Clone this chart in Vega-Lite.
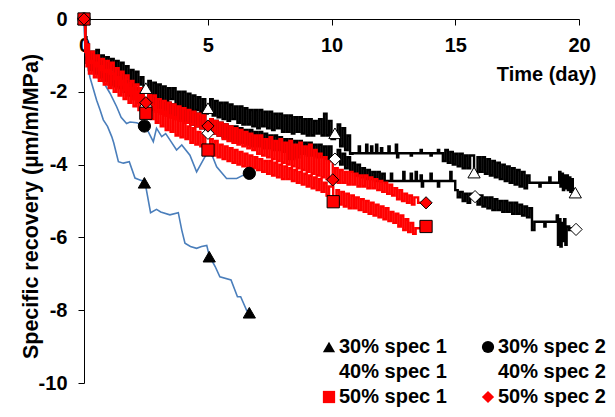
{
 "$schema": "https://vega.github.io/schema/vega-lite/v6.json",
 "width": 495, "height": 364,
 "autosize": "none",
 "padding": {"left": 84, "top": 19, "right": 36, "bottom": 34},
 "background": "white",
 "config": {"view": {"stroke": null}, "font": "Liberation Sans"},
 "resolve": {"scale": {"stroke": "independent"}},
 "datasets": {
  "blue": [
   {"s":"30% spec 1","x":0,"y":0},{"s":"30% spec 1","x":0.04,"y":-0.85},{"s":"30% spec 1","x":0.24,"y":-1.6},{"s":"30% spec 1","x":0.51,"y":-2.23},{"s":"30% spec 1","x":0.65,"y":-2.5},{"s":"30% spec 1","x":0.78,"y":-2.77},{"s":"30% spec 1","x":0.95,"y":-2.95},{"s":"30% spec 1","x":1.12,"y":-3.23},{"s":"30% spec 1","x":1.2,"y":-3.4},{"s":"30% spec 1","x":1.39,"y":-3.92},{"s":"30% spec 1","x":1.59,"y":-3.96},{"s":"30% spec 1","x":1.83,"y":-3.92},{"s":"30% spec 1","x":2.06,"y":-4.37},{"s":"30% spec 1","x":2.26,"y":-4.42},{"s":"30% spec 1","x":2.46,"y":-4.47},{"s":"30% spec 1","x":2.69,"y":-5.32},{"s":"30% spec 1","x":2.93,"y":-5.23},{"s":"30% spec 1","x":3.1,"y":-5.3},{"s":"30% spec 1","x":3.47,"y":-5.38},{"s":"30% spec 1","x":3.81,"y":-5.32},{"s":"30% spec 1","x":3.95,"y":-5.8},{"s":"30% spec 1","x":4.08,"y":-6.16},{"s":"30% spec 1","x":4.3,"y":-6.25},{"s":"30% spec 1","x":4.55,"y":-6.3},{"s":"30% spec 1","x":4.75,"y":-6.25},{"s":"30% spec 1","x":4.96,"y":-6.22},{"s":"30% spec 1","x":5.06,"y":-6.5},{"s":"30% spec 1","x":5.3,"y":-6.8},{"s":"30% spec 1","x":5.49,"y":-7.08},{"s":"30% spec 1","x":5.94,"y":-7.17},{"s":"30% spec 1","x":6.2,"y":-7.63},{"s":"30% spec 1","x":6.33,"y":-7.63},{"s":"30% spec 1","x":6.57,"y":-8.0},{"s":"30% spec 1","x":6.68,"y":-8.07},
   {"s":"30% spec 2","x":0,"y":0},{"s":"30% spec 2","x":0.08,"y":-1.13},{"s":"30% spec 2","x":0.38,"y":-1.35},{"s":"30% spec 2","x":0.65,"y":-1.58},{"s":"30% spec 2","x":1.05,"y":-2.04},{"s":"30% spec 2","x":1.32,"y":-2.41},{"s":"30% spec 2","x":1.5,"y":-2.7},{"s":"30% spec 2","x":1.72,"y":-2.87},{"s":"30% spec 2","x":1.86,"y":-2.83},{"s":"30% spec 2","x":2.13,"y":-2.85},{"s":"30% spec 2","x":2.44,"y":-2.94},{"s":"30% spec 2","x":2.6,"y":-3.1},{"s":"30% spec 2","x":2.8,"y":-3.37},{"s":"30% spec 2","x":2.93,"y":-3.0},{"s":"30% spec 2","x":3.14,"y":-3.23},{"s":"30% spec 2","x":3.3,"y":-3.15},{"s":"30% spec 2","x":3.47,"y":-3.32},{"s":"30% spec 2","x":3.74,"y":-3.6},{"s":"30% spec 2","x":3.95,"y":-3.46},{"s":"30% spec 2","x":4.28,"y":-3.74},{"s":"30% spec 2","x":4.55,"y":-4.2},{"s":"30% spec 2","x":4.89,"y":-3.78},{"s":"30% spec 2","x":5.09,"y":-3.6},{"s":"30% spec 2","x":5.36,"y":-4.06},{"s":"30% spec 2","x":5.76,"y":-4.38},{"s":"30% spec 2","x":6.17,"y":-4.38},{"s":"30% spec 2","x":6.44,"y":-4.29},{"s":"30% spec 2","x":6.68,"y":-4.24}
  ],
  "noisy": [
   {"s":"40% spec 2","x":0,"y":0},{"s":"40% spec 2","x":0.05,"y":-0.5},{"s":"40% spec 2","x":0.1,"y":-0.9},{"s":"40% spec 2","x":0.15,"y":-0.7},{"s":"40% spec 2","x":0.2,"y":-1.1},{"s":"40% spec 2","x":0.3,"y":-0.9},{"s":"40% spec 2","x":0.4,"y":-1.2},{"s":"40% spec 2","x":0.5,"y":-0.85},{"s":"40% spec 2","x":0.6,"y":-1.3},{"s":"40% spec 2","x":0.7,"y":-1.0},{"s":"40% spec 2","x":0.8,"y":-1.35},{"s":"40% spec 2","x":0.9,"y":-1.05},{"s":"40% spec 2","x":1.0,"y":-1.4},{"s":"40% spec 2","x":1.1,"y":-1.1},{"s":"40% spec 2","x":1.2,"y":-1.5},{"s":"40% spec 2","x":1.3,"y":-1.15},{"s":"40% spec 2","x":1.4,"y":-1.55},{"s":"40% spec 2","x":1.5,"y":-1.2},{"s":"40% spec 2","x":1.6,"y":-1.6},{"s":"40% spec 2","x":1.7,"y":-1.3},{"s":"40% spec 2","x":1.8,"y":-1.7},{"s":"40% spec 2","x":1.9,"y":-1.4},{"s":"40% spec 2","x":2.0,"y":-1.75},{"s":"40% spec 2","x":2.1,"y":-1.45},{"s":"40% spec 2","x":2.2,"y":-1.8},{"s":"40% spec 2","x":2.3,"y":-1.6},{"s":"40% spec 2","x":2.4,"y":-1.95},{"s":"40% spec 2","x":2.5,"y":-1.9},{"s":"40% spec 2","x":2.6,"y":-1.7},{"s":"40% spec 2","x":2.7,"y":-2.1},{"s":"40% spec 2","x":2.8,"y":-1.75},{"s":"40% spec 2","x":2.9,"y":-2.2},{"s":"40% spec 2","x":3.0,"y":-1.8},{"s":"40% spec 2","x":3.1,"y":-2.25},{"s":"40% spec 2","x":3.2,"y":-1.85},{"s":"40% spec 2","x":3.3,"y":-2.3},{"s":"40% spec 2","x":3.4,"y":-1.9},{"s":"40% spec 2","x":3.5,"y":-2.2},{"s":"40% spec 2","x":3.6,"y":-1.9},{"s":"40% spec 2","x":3.7,"y":-2.35},{"s":"40% spec 2","x":3.8,"y":-2.0},{"s":"40% spec 2","x":3.9,"y":-2.4},{"s":"40% spec 2","x":4.0,"y":-2.0},{"s":"40% spec 2","x":4.1,"y":-2.45},{"s":"40% spec 2","x":4.2,"y":-2.05},{"s":"40% spec 2","x":4.3,"y":-2.5},{"s":"40% spec 2","x":4.4,"y":-2.1},{"s":"40% spec 2","x":4.5,"y":-2.5},{"s":"40% spec 2","x":4.6,"y":-2.15},{"s":"40% spec 2","x":4.7,"y":-2.55},{"s":"40% spec 2","x":4.8,"y":-2.2},{"s":"40% spec 2","x":4.9,"y":-2.6},{"s":"40% spec 2","x":5.0,"y":-2.45},{"s":"40% spec 2","x":5.1,"y":-2.2},{"s":"40% spec 2","x":5.2,"y":-2.65},{"s":"40% spec 2","x":5.3,"y":-2.25},{"s":"40% spec 2","x":5.4,"y":-2.7},{"s":"40% spec 2","x":5.5,"y":-2.3},{"s":"40% spec 2","x":5.6,"y":-2.75},{"s":"40% spec 2","x":5.7,"y":-2.3},{"s":"40% spec 2","x":5.8,"y":-2.8},{"s":"40% spec 2","x":5.9,"y":-2.35},{"s":"40% spec 2","x":6.0,"y":-2.75},{"s":"40% spec 2","x":6.1,"y":-2.4},{"s":"40% spec 2","x":6.2,"y":-2.85},{"s":"40% spec 2","x":6.3,"y":-2.4},{"s":"40% spec 2","x":6.4,"y":-2.9},{"s":"40% spec 2","x":6.5,"y":-2.45},{"s":"40% spec 2","x":6.6,"y":-2.9},{"s":"40% spec 2","x":6.7,"y":-2.5},{"s":"40% spec 2","x":6.8,"y":-2.95},{"s":"40% spec 2","x":6.9,"y":-2.5},{"s":"40% spec 2","x":7.0,"y":-3.0},{"s":"40% spec 2","x":7.1,"y":-2.5},{"s":"40% spec 2","x":7.2,"y":-2.95},{"s":"40% spec 2","x":7.3,"y":-2.55},{"s":"40% spec 2","x":7.4,"y":-3.0},{"s":"40% spec 2","x":7.5,"y":-2.55},{"s":"40% spec 2","x":7.6,"y":-3.05},{"s":"40% spec 2","x":7.7,"y":-2.6},{"s":"40% spec 2","x":7.8,"y":-3.0},{"s":"40% spec 2","x":7.9,"y":-2.6},{"s":"40% spec 2","x":8.0,"y":-3.1},{"s":"40% spec 2","x":8.1,"y":-2.65},{"s":"40% spec 2","x":8.2,"y":-3.1},{"s":"40% spec 2","x":8.3,"y":-2.65},{"s":"40% spec 2","x":8.4,"y":-3.15},{"s":"40% spec 2","x":8.5,"y":-2.7},{"s":"40% spec 2","x":8.6,"y":-3.1},{"s":"40% spec 2","x":8.7,"y":-2.7},{"s":"40% spec 2","x":8.8,"y":-3.15},{"s":"40% spec 2","x":8.9,"y":-2.75},{"s":"40% spec 2","x":9.0,"y":-3.2},{"s":"40% spec 2","x":9.1,"y":-2.75},{"s":"40% spec 2","x":9.2,"y":-3.2},{"s":"40% spec 2","x":9.3,"y":-2.8},{"s":"40% spec 2","x":9.4,"y":-3.15},{"s":"40% spec 2","x":9.5,"y":-2.75},{"s":"40% spec 2","x":9.6,"y":-3.2},{"s":"40% spec 2","x":9.7,"y":-2.6},{"s":"40% spec 2","x":9.8,"y":-3.2},{"s":"40% spec 2","x":9.9,"y":-2.8},{"s":"40% spec 2","x":10.0,"y":-3.3},{"s":"40% spec 2","x":10.14,"y":-3.14},{"s":"40% spec 2","x":10.25,"y":-2.9},{"s":"40% spec 2","x":10.35,"y":-3.5},{"s":"40% spec 2","x":10.45,"y":-3.0},{"s":"40% spec 2","x":10.55,"y":-3.6},{"s":"40% spec 2","x":10.65,"y":-3.2},{"s":"40% spec 2","x":10.75,"y":-3.7},{"s":"40% spec 2","x":10.85,"y":-3.69},{"s":"40% spec 2","x":11.1,"y":-3.5},{"s":"40% spec 2","x":11.15,"y":-3.69},{"s":"40% spec 2","x":11.4,"y":-3.45},{"s":"40% spec 2","x":11.45,"y":-3.69},{"s":"40% spec 2","x":11.6,"y":-3.5},{"s":"40% spec 2","x":11.65,"y":-3.69},{"s":"40% spec 2","x":11.8,"y":-3.45},{"s":"40% spec 2","x":11.85,"y":-3.69},{"s":"40% spec 2","x":12.0,"y":-3.55},{"s":"40% spec 2","x":12.05,"y":-3.69},{"s":"40% spec 2","x":12.3,"y":-3.5},{"s":"40% spec 2","x":12.35,"y":-3.69},{"s":"40% spec 2","x":12.6,"y":-3.45},{"s":"40% spec 2","x":12.65,"y":-3.8},{"s":"40% spec 2","x":12.7,"y":-3.69},{"s":"40% spec 2","x":13.2,"y":-3.75},{"s":"40% spec 2","x":13.25,"y":-3.69},{"s":"40% spec 2","x":13.6,"y":-3.6},{"s":"40% spec 2","x":13.65,"y":-3.69},{"s":"40% spec 2","x":14.0,"y":-3.75},{"s":"40% spec 2","x":14.05,"y":-3.69},{"s":"40% spec 2","x":14.3,"y":-3.6},{"s":"40% spec 2","x":14.35,"y":-3.69},{"s":"40% spec 2","x":14.5,"y":-3.9},{"s":"40% spec 2","x":14.6,"y":-3.6},{"s":"40% spec 2","x":14.7,"y":-3.95},{"s":"40% spec 2","x":14.8,"y":-3.65},{"s":"40% spec 2","x":14.9,"y":-4.0},{"s":"40% spec 2","x":15.0,"y":-3.7},{"s":"40% spec 2","x":15.1,"y":-4.05},{"s":"40% spec 2","x":15.2,"y":-3.7},{"s":"40% spec 2","x":15.3,"y":-4.1},{"s":"40% spec 2","x":15.4,"y":-3.75},{"s":"40% spec 2","x":15.5,"y":-4.1},{"s":"40% spec 2","x":15.6,"y":-3.75},{"s":"40% spec 2","x":15.76,"y":-4.22},{"s":"40% spec 2","x":15.9,"y":-3.8},{"s":"40% spec 2","x":16.0,"y":-4.2},{"s":"40% spec 2","x":16.1,"y":-3.8},{"s":"40% spec 2","x":16.2,"y":-4.25},{"s":"40% spec 2","x":16.3,"y":-3.85},{"s":"40% spec 2","x":16.4,"y":-4.3},{"s":"40% spec 2","x":16.5,"y":-3.9},{"s":"40% spec 2","x":16.6,"y":-4.35},{"s":"40% spec 2","x":16.7,"y":-3.95},{"s":"40% spec 2","x":16.8,"y":-4.4},{"s":"40% spec 2","x":16.9,"y":-4.0},{"s":"40% spec 2","x":17.0,"y":-4.45},{"s":"40% spec 2","x":17.1,"y":-4.05},{"s":"40% spec 2","x":17.2,"y":-4.5},{"s":"40% spec 2","x":17.3,"y":-4.1},{"s":"40% spec 2","x":17.4,"y":-4.55},{"s":"40% spec 2","x":17.5,"y":-4.15},{"s":"40% spec 2","x":17.6,"y":-4.6},{"s":"40% spec 2","x":17.7,"y":-4.2},{"s":"40% spec 2","x":17.8,"y":-4.65},{"s":"40% spec 2","x":17.9,"y":-4.3},{"s":"40% spec 2","x":18.0,"y":-4.5},{"s":"40% spec 2","x":18.4,"y":-4.6},{"s":"40% spec 2","x":18.45,"y":-4.5},{"s":"40% spec 2","x":18.8,"y":-4.35},{"s":"40% spec 2","x":18.85,"y":-4.5},{"s":"40% spec 2","x":19.2,"y":-4.2},{"s":"40% spec 2","x":19.25,"y":-4.6},{"s":"40% spec 2","x":19.3,"y":-4.25},{"s":"40% spec 2","x":19.35,"y":-4.7},{"s":"40% spec 2","x":19.4,"y":-4.3},{"s":"40% spec 2","x":19.45,"y":-4.65},{"s":"40% spec 2","x":19.5,"y":-4.3},{"s":"40% spec 2","x":19.55,"y":-4.7},{"s":"40% spec 2","x":19.6,"y":-4.35},{"s":"40% spec 2","x":19.65,"y":-4.75},{"s":"40% spec 2","x":19.7,"y":-4.4},{"s":"40% spec 2","x":19.75,"y":-4.7},{"s":"40% spec 2","x":19.85,"y":-4.77},
   {"s":"40% spec 1","x":0,"y":0},{"s":"40% spec 1","x":0.05,"y":-0.8},{"s":"40% spec 1","x":0.1,"y":-1.2},{"s":"40% spec 1","x":0.15,"y":-1.0},{"s":"40% spec 1","x":0.2,"y":-1.4},{"s":"40% spec 1","x":0.3,"y":-1.1},{"s":"40% spec 1","x":0.4,"y":-1.5},{"s":"40% spec 1","x":0.5,"y":-1.2},{"s":"40% spec 1","x":0.6,"y":-1.6},{"s":"40% spec 1","x":0.7,"y":-1.3},{"s":"40% spec 1","x":0.8,"y":-1.7},{"s":"40% spec 1","x":0.9,"y":-1.4},{"s":"40% spec 1","x":1.0,"y":-1.8},{"s":"40% spec 1","x":1.1,"y":-1.5},{"s":"40% spec 1","x":1.2,"y":-1.85},{"s":"40% spec 1","x":1.3,"y":-1.55},{"s":"40% spec 1","x":1.4,"y":-1.9},{"s":"40% spec 1","x":1.5,"y":-1.6},{"s":"40% spec 1","x":1.6,"y":-2.0},{"s":"40% spec 1","x":1.7,"y":-1.7},{"s":"40% spec 1","x":1.8,"y":-2.1},{"s":"40% spec 1","x":1.9,"y":-1.8},{"s":"40% spec 1","x":2.0,"y":-2.2},{"s":"40% spec 1","x":2.1,"y":-1.9},{"s":"40% spec 1","x":2.2,"y":-2.3},{"s":"40% spec 1","x":2.3,"y":-2.0},{"s":"40% spec 1","x":2.4,"y":-2.35},{"s":"40% spec 1","x":2.5,"y":-2.4},{"s":"40% spec 1","x":2.6,"y":-2.1},{"s":"40% spec 1","x":2.7,"y":-2.5},{"s":"40% spec 1","x":2.8,"y":-2.15},{"s":"40% spec 1","x":2.9,"y":-2.55},{"s":"40% spec 1","x":3.0,"y":-2.2},{"s":"40% spec 1","x":3.1,"y":-2.6},{"s":"40% spec 1","x":3.2,"y":-2.25},{"s":"40% spec 1","x":3.3,"y":-2.65},{"s":"40% spec 1","x":3.4,"y":-2.3},{"s":"40% spec 1","x":3.5,"y":-2.7},{"s":"40% spec 1","x":3.6,"y":-2.35},{"s":"40% spec 1","x":3.7,"y":-2.75},{"s":"40% spec 1","x":3.8,"y":-2.4},{"s":"40% spec 1","x":3.9,"y":-2.8},{"s":"40% spec 1","x":4.0,"y":-2.45},{"s":"40% spec 1","x":4.1,"y":-2.85},{"s":"40% spec 1","x":4.2,"y":-2.5},{"s":"40% spec 1","x":4.3,"y":-2.9},{"s":"40% spec 1","x":4.4,"y":-2.55},{"s":"40% spec 1","x":4.5,"y":-2.95},{"s":"40% spec 1","x":4.6,"y":-2.6},{"s":"40% spec 1","x":4.7,"y":-3.0},{"s":"40% spec 1","x":4.8,"y":-2.65},{"s":"40% spec 1","x":4.9,"y":-3.05},{"s":"40% spec 1","x":5.0,"y":-3.14},{"s":"40% spec 1","x":5.1,"y":-2.75},{"s":"40% spec 1","x":5.2,"y":-3.15},{"s":"40% spec 1","x":5.3,"y":-2.8},{"s":"40% spec 1","x":5.4,"y":-3.2},{"s":"40% spec 1","x":5.5,"y":-2.85},{"s":"40% spec 1","x":5.6,"y":-3.25},{"s":"40% spec 1","x":5.7,"y":-2.9},{"s":"40% spec 1","x":5.8,"y":-3.3},{"s":"40% spec 1","x":5.9,"y":-2.95},{"s":"40% spec 1","x":6.0,"y":-3.35},{"s":"40% spec 1","x":6.1,"y":-2.95},{"s":"40% spec 1","x":6.2,"y":-3.4},{"s":"40% spec 1","x":6.3,"y":-3.0},{"s":"40% spec 1","x":6.4,"y":-3.4},{"s":"40% spec 1","x":6.5,"y":-3.05},{"s":"40% spec 1","x":6.6,"y":-3.45},{"s":"40% spec 1","x":6.7,"y":-3.05},{"s":"40% spec 1","x":6.8,"y":-3.5},{"s":"40% spec 1","x":6.9,"y":-3.1},{"s":"40% spec 1","x":7.0,"y":-3.5},{"s":"40% spec 1","x":7.1,"y":-3.1},{"s":"40% spec 1","x":7.2,"y":-3.55},{"s":"40% spec 1","x":7.3,"y":-3.15},{"s":"40% spec 1","x":7.4,"y":-3.55},{"s":"40% spec 1","x":7.5,"y":-3.2},{"s":"40% spec 1","x":7.6,"y":-3.6},{"s":"40% spec 1","x":7.7,"y":-3.2},{"s":"40% spec 1","x":7.8,"y":-3.6},{"s":"40% spec 1","x":7.9,"y":-3.25},{"s":"40% spec 1","x":8.0,"y":-3.65},{"s":"40% spec 1","x":8.1,"y":-3.3},{"s":"40% spec 1","x":8.2,"y":-3.85},{"s":"40% spec 1","x":8.3,"y":-3.3},{"s":"40% spec 1","x":8.4,"y":-3.85},{"s":"40% spec 1","x":8.5,"y":-3.35},{"s":"40% spec 1","x":8.6,"y":-3.8},{"s":"40% spec 1","x":8.7,"y":-3.35},{"s":"40% spec 1","x":8.8,"y":-3.7},{"s":"40% spec 1","x":8.9,"y":-3.4},{"s":"40% spec 1","x":9.0,"y":-3.75},{"s":"40% spec 1","x":9.1,"y":-3.4},{"s":"40% spec 1","x":9.2,"y":-3.75},{"s":"40% spec 1","x":9.3,"y":-3.45},{"s":"40% spec 1","x":9.4,"y":-3.8},{"s":"40% spec 1","x":9.5,"y":-3.45},{"s":"40% spec 1","x":9.6,"y":-3.8},{"s":"40% spec 1","x":9.7,"y":-3.5},{"s":"40% spec 1","x":9.8,"y":-3.85},{"s":"40% spec 1","x":9.9,"y":-3.5},{"s":"40% spec 1","x":10.0,"y":-3.9},{"s":"40% spec 1","x":10.14,"y":-3.85},{"s":"40% spec 1","x":10.25,"y":-3.6},{"s":"40% spec 1","x":10.35,"y":-4.0},{"s":"40% spec 1","x":10.45,"y":-3.7},{"s":"40% spec 1","x":10.55,"y":-4.1},{"s":"40% spec 1","x":10.65,"y":-3.8},{"s":"40% spec 1","x":10.75,"y":-4.2},{"s":"40% spec 1","x":10.85,"y":-3.95},{"s":"40% spec 1","x":10.95,"y":-4.3},{"s":"40% spec 1","x":11.05,"y":-4.0},{"s":"40% spec 1","x":11.15,"y":-4.35},{"s":"40% spec 1","x":11.25,"y":-4.1},{"s":"40% spec 1","x":11.35,"y":-4.4},{"s":"40% spec 1","x":11.45,"y":-4.15},{"s":"40% spec 1","x":11.55,"y":-4.4},{"s":"40% spec 1","x":11.65,"y":-4.2},{"s":"40% spec 1","x":11.75,"y":-4.45},{"s":"40% spec 1","x":11.85,"y":-4.2},{"s":"40% spec 1","x":11.95,"y":-4.45},{"s":"40% spec 1","x":12.05,"y":-4.25},{"s":"40% spec 1","x":12.15,"y":-4.45},{"s":"40% spec 1","x":12.4,"y":-4.25},{"s":"40% spec 1","x":12.45,"y":-4.45},{"s":"40% spec 1","x":12.9,"y":-4.2},{"s":"40% spec 1","x":12.95,"y":-4.45},{"s":"40% spec 1","x":13.2,"y":-4.25},{"s":"40% spec 1","x":13.25,"y":-4.45},{"s":"40% spec 1","x":13.4,"y":-4.2},{"s":"40% spec 1","x":13.45,"y":-4.45},{"s":"40% spec 1","x":13.6,"y":-4.3},{"s":"40% spec 1","x":13.65,"y":-4.6},{"s":"40% spec 1","x":13.7,"y":-4.45},{"s":"40% spec 1","x":14.0,"y":-4.25},{"s":"40% spec 1","x":14.05,"y":-4.45},{"s":"40% spec 1","x":14.3,"y":-4.6},{"s":"40% spec 1","x":14.35,"y":-4.45},{"s":"40% spec 1","x":14.8,"y":-4.2},{"s":"40% spec 1","x":14.85,"y":-4.45},{"s":"40% spec 1","x":15.0,"y":-4.7},{"s":"40% spec 1","x":15.1,"y":-4.9},{"s":"40% spec 1","x":15.2,"y":-4.75},{"s":"40% spec 1","x":15.3,"y":-5.0},{"s":"40% spec 1","x":15.4,"y":-4.8},{"s":"40% spec 1","x":15.5,"y":-5.05},{"s":"40% spec 1","x":15.6,"y":-4.8},{"s":"40% spec 1","x":15.8,"y":-4.88},{"s":"40% spec 1","x":15.9,"y":-5.1},{"s":"40% spec 1","x":16.0,"y":-4.85},{"s":"40% spec 1","x":16.1,"y":-5.15},{"s":"40% spec 1","x":16.2,"y":-4.9},{"s":"40% spec 1","x":16.3,"y":-5.2},{"s":"40% spec 1","x":16.4,"y":-4.9},{"s":"40% spec 1","x":16.5,"y":-5.25},{"s":"40% spec 1","x":16.6,"y":-4.95},{"s":"40% spec 1","x":16.7,"y":-5.25},{"s":"40% spec 1","x":16.8,"y":-5.0},{"s":"40% spec 1","x":16.9,"y":-5.3},{"s":"40% spec 1","x":17.0,"y":-5.0},{"s":"40% spec 1","x":17.1,"y":-5.3},{"s":"40% spec 1","x":17.2,"y":-5.05},{"s":"40% spec 1","x":17.3,"y":-5.35},{"s":"40% spec 1","x":17.4,"y":-5.05},{"s":"40% spec 1","x":17.5,"y":-5.35},{"s":"40% spec 1","x":17.6,"y":-5.1},{"s":"40% spec 1","x":17.7,"y":-5.4},{"s":"40% spec 1","x":17.8,"y":-5.15},{"s":"40% spec 1","x":17.9,"y":-5.45},{"s":"40% spec 1","x":18.0,"y":-5.2},{"s":"40% spec 1","x":18.1,"y":-5.8},{"s":"40% spec 1","x":18.2,"y":-5.57},{"s":"40% spec 1","x":18.6,"y":-5.7},{"s":"40% spec 1","x":18.65,"y":-5.57},{"s":"40% spec 1","x":19.1,"y":-5.4},{"s":"40% spec 1","x":19.15,"y":-6.2},{"s":"40% spec 1","x":19.2,"y":-5.5},{"s":"40% spec 1","x":19.25,"y":-6.25},{"s":"40% spec 1","x":19.3,"y":-5.6},{"s":"40% spec 1","x":19.35,"y":-6.1},{"s":"40% spec 1","x":19.4,"y":-5.5},{"s":"40% spec 1","x":19.45,"y":-6.2},{"s":"40% spec 1","x":19.5,"y":-5.7},{"s":"40% spec 1","x":19.6,"y":-5.8},{"s":"40% spec 1","x":19.7,"y":-5.75},{"s":"40% spec 1","x":19.88,"y":-5.78},
   {"s":"50% spec 2","x":0,"y":0},{"s":"50% spec 2","x":0.05,"y":-0.6},{"s":"50% spec 2","x":0.1,"y":-1.0},{"s":"50% spec 2","x":0.15,"y":-0.7},{"s":"50% spec 2","x":0.2,"y":-1.2},{"s":"50% spec 2","x":0.3,"y":-0.9},{"s":"50% spec 2","x":0.4,"y":-1.3},{"s":"50% spec 2","x":0.5,"y":-1.0},{"s":"50% spec 2","x":0.6,"y":-1.4},{"s":"50% spec 2","x":0.7,"y":-1.1},{"s":"50% spec 2","x":0.8,"y":-1.45},{"s":"50% spec 2","x":0.9,"y":-1.15},{"s":"50% spec 2","x":1.0,"y":-1.5},{"s":"50% spec 2","x":1.1,"y":-1.2},{"s":"50% spec 2","x":1.2,"y":-1.65},{"s":"50% spec 2","x":1.3,"y":-1.35},{"s":"50% spec 2","x":1.4,"y":-1.8},{"s":"50% spec 2","x":1.5,"y":-1.45},{"s":"50% spec 2","x":1.6,"y":-1.95},{"s":"50% spec 2","x":1.7,"y":-1.55},{"s":"50% spec 2","x":1.8,"y":-2.05},{"s":"50% spec 2","x":1.9,"y":-1.7},{"s":"50% spec 2","x":2.0,"y":-2.2},{"s":"50% spec 2","x":2.1,"y":-1.8},{"s":"50% spec 2","x":2.2,"y":-2.25},{"s":"50% spec 2","x":2.3,"y":-1.9},{"s":"50% spec 2","x":2.4,"y":-2.3},{"s":"50% spec 2","x":2.5,"y":-2.3},{"s":"50% spec 2","x":2.6,"y":-2.05},{"s":"50% spec 2","x":2.7,"y":-2.45},{"s":"50% spec 2","x":2.8,"y":-2.1},{"s":"50% spec 2","x":2.9,"y":-2.55},{"s":"50% spec 2","x":3.0,"y":-2.2},{"s":"50% spec 2","x":3.1,"y":-2.6},{"s":"50% spec 2","x":3.2,"y":-2.25},{"s":"50% spec 2","x":3.3,"y":-2.65},{"s":"50% spec 2","x":3.4,"y":-2.3},{"s":"50% spec 2","x":3.5,"y":-2.7},{"s":"50% spec 2","x":3.6,"y":-2.35},{"s":"50% spec 2","x":3.7,"y":-2.75},{"s":"50% spec 2","x":3.8,"y":-2.4},{"s":"50% spec 2","x":3.9,"y":-2.8},{"s":"50% spec 2","x":4.0,"y":-2.45},{"s":"50% spec 2","x":4.1,"y":-2.85},{"s":"50% spec 2","x":4.2,"y":-2.5},{"s":"50% spec 2","x":4.3,"y":-2.9},{"s":"50% spec 2","x":4.4,"y":-2.55},{"s":"50% spec 2","x":4.5,"y":-2.95},{"s":"50% spec 2","x":4.6,"y":-2.6},{"s":"50% spec 2","x":4.7,"y":-3.0},{"s":"50% spec 2","x":4.8,"y":-2.65},{"s":"50% spec 2","x":4.9,"y":-3.0},{"s":"50% spec 2","x":5.0,"y":-2.94},{"s":"50% spec 2","x":5.1,"y":-2.75},{"s":"50% spec 2","x":5.2,"y":-3.15},{"s":"50% spec 2","x":5.3,"y":-2.8},{"s":"50% spec 2","x":5.4,"y":-3.2},{"s":"50% spec 2","x":5.5,"y":-2.85},{"s":"50% spec 2","x":5.6,"y":-3.3},{"s":"50% spec 2","x":5.7,"y":-2.9},{"s":"50% spec 2","x":5.8,"y":-3.35},{"s":"50% spec 2","x":5.9,"y":-2.95},{"s":"50% spec 2","x":6.0,"y":-3.4},{"s":"50% spec 2","x":6.1,"y":-3.0},{"s":"50% spec 2","x":6.2,"y":-3.45},{"s":"50% spec 2","x":6.3,"y":-3.05},{"s":"50% spec 2","x":6.4,"y":-3.5},{"s":"50% spec 2","x":6.5,"y":-3.1},{"s":"50% spec 2","x":6.6,"y":-3.55},{"s":"50% spec 2","x":6.7,"y":-3.15},{"s":"50% spec 2","x":6.8,"y":-3.6},{"s":"50% spec 2","x":6.9,"y":-3.2},{"s":"50% spec 2","x":7.0,"y":-3.7},{"s":"50% spec 2","x":7.1,"y":-3.2},{"s":"50% spec 2","x":7.2,"y":-3.75},{"s":"50% spec 2","x":7.3,"y":-3.3},{"s":"50% spec 2","x":7.4,"y":-3.8},{"s":"50% spec 2","x":7.5,"y":-3.25},{"s":"50% spec 2","x":7.6,"y":-3.85},{"s":"50% spec 2","x":7.7,"y":-3.35},{"s":"50% spec 2","x":7.8,"y":-3.9},{"s":"50% spec 2","x":7.9,"y":-3.3},{"s":"50% spec 2","x":8.0,"y":-3.95},{"s":"50% spec 2","x":8.1,"y":-3.4},{"s":"50% spec 2","x":8.2,"y":-4.0},{"s":"50% spec 2","x":8.3,"y":-3.35},{"s":"50% spec 2","x":8.4,"y":-4.05},{"s":"50% spec 2","x":8.5,"y":-3.45},{"s":"50% spec 2","x":8.6,"y":-4.1},{"s":"50% spec 2","x":8.7,"y":-3.4},{"s":"50% spec 2","x":8.8,"y":-4.15},{"s":"50% spec 2","x":8.9,"y":-3.5},{"s":"50% spec 2","x":9.0,"y":-4.2},{"s":"50% spec 2","x":9.1,"y":-3.45},{"s":"50% spec 2","x":9.2,"y":-4.25},{"s":"50% spec 2","x":9.3,"y":-3.6},{"s":"50% spec 2","x":9.4,"y":-4.3},{"s":"50% spec 2","x":9.5,"y":-3.7},{"s":"50% spec 2","x":9.6,"y":-4.35},{"s":"50% spec 2","x":9.7,"y":-3.8},{"s":"50% spec 2","x":9.8,"y":-4.4},{"s":"50% spec 2","x":9.9,"y":-3.9},{"s":"50% spec 2","x":10.05,"y":-4.42},{"s":"50% spec 2","x":10.15,"y":-4.1},{"s":"50% spec 2","x":10.25,"y":-4.5},{"s":"50% spec 2","x":10.35,"y":-4.15},{"s":"50% spec 2","x":10.45,"y":-4.5},{"s":"50% spec 2","x":10.55,"y":-4.2},{"s":"50% spec 2","x":10.65,"y":-4.55},{"s":"50% spec 2","x":10.75,"y":-4.2},{"s":"50% spec 2","x":10.85,"y":-4.55},{"s":"50% spec 2","x":10.95,"y":-4.25},{"s":"50% spec 2","x":11.05,"y":-4.6},{"s":"50% spec 2","x":11.15,"y":-4.3},{"s":"50% spec 2","x":11.25,"y":-4.6},{"s":"50% spec 2","x":11.35,"y":-4.3},{"s":"50% spec 2","x":11.45,"y":-4.65},{"s":"50% spec 2","x":11.55,"y":-4.35},{"s":"50% spec 2","x":11.65,"y":-4.65},{"s":"50% spec 2","x":11.75,"y":-4.4},{"s":"50% spec 2","x":11.85,"y":-4.7},{"s":"50% spec 2","x":11.95,"y":-4.45},{"s":"50% spec 2","x":12.05,"y":-4.75},{"s":"50% spec 2","x":12.15,"y":-4.5},{"s":"50% spec 2","x":12.25,"y":-4.8},{"s":"50% spec 2","x":12.35,"y":-4.55},{"s":"50% spec 2","x":12.45,"y":-4.85},{"s":"50% spec 2","x":12.55,"y":-4.65},{"s":"50% spec 2","x":12.65,"y":-4.95},{"s":"50% spec 2","x":12.75,"y":-4.7},{"s":"50% spec 2","x":12.85,"y":-5.0},{"s":"50% spec 2","x":12.95,"y":-4.8},{"s":"50% spec 2","x":13.05,"y":-5.05},{"s":"50% spec 2","x":13.15,"y":-4.85},{"s":"50% spec 2","x":13.25,"y":-5.1},{"s":"50% spec 2","x":13.35,"y":-4.9},{"s":"50% spec 2","x":13.5,"y":-5.05},{"s":"50% spec 2","x":13.82,"y":-5.05},
   {"s":"50% spec 1","x":0,"y":0},{"s":"50% spec 1","x":0.05,"y":-0.9},{"s":"50% spec 1","x":0.1,"y":-1.3},{"s":"50% spec 1","x":0.15,"y":-1.0},{"s":"50% spec 1","x":0.2,"y":-1.5},{"s":"50% spec 1","x":0.3,"y":-1.15},{"s":"50% spec 1","x":0.4,"y":-1.6},{"s":"50% spec 1","x":0.5,"y":-1.2},{"s":"50% spec 1","x":0.6,"y":-1.7},{"s":"50% spec 1","x":0.7,"y":-1.3},{"s":"50% spec 1","x":0.8,"y":-1.8},{"s":"50% spec 1","x":0.9,"y":-1.4},{"s":"50% spec 1","x":1.0,"y":-1.9},{"s":"50% spec 1","x":1.1,"y":-1.5},{"s":"50% spec 1","x":1.2,"y":-2.0},{"s":"50% spec 1","x":1.3,"y":-1.6},{"s":"50% spec 1","x":1.4,"y":-2.1},{"s":"50% spec 1","x":1.5,"y":-1.7},{"s":"50% spec 1","x":1.6,"y":-2.2},{"s":"50% spec 1","x":1.7,"y":-1.8},{"s":"50% spec 1","x":1.8,"y":-2.3},{"s":"50% spec 1","x":1.9,"y":-1.9},{"s":"50% spec 1","x":2.0,"y":-2.4},{"s":"50% spec 1","x":2.1,"y":-2.0},{"s":"50% spec 1","x":2.2,"y":-2.5},{"s":"50% spec 1","x":2.3,"y":-2.1},{"s":"50% spec 1","x":2.4,"y":-2.6},{"s":"50% spec 1","x":2.5,"y":-2.59},{"s":"50% spec 1","x":2.6,"y":-2.3},{"s":"50% spec 1","x":2.7,"y":-2.75},{"s":"50% spec 1","x":2.8,"y":-2.4},{"s":"50% spec 1","x":2.9,"y":-2.85},{"s":"50% spec 1","x":3.0,"y":-2.5},{"s":"50% spec 1","x":3.1,"y":-2.95},{"s":"50% spec 1","x":3.2,"y":-2.55},{"s":"50% spec 1","x":3.3,"y":-3.05},{"s":"50% spec 1","x":3.4,"y":-2.65},{"s":"50% spec 1","x":3.5,"y":-3.1},{"s":"50% spec 1","x":3.6,"y":-2.7},{"s":"50% spec 1","x":3.7,"y":-3.2},{"s":"50% spec 1","x":3.8,"y":-2.8},{"s":"50% spec 1","x":3.9,"y":-3.25},{"s":"50% spec 1","x":4.0,"y":-2.85},{"s":"50% spec 1","x":4.1,"y":-3.3},{"s":"50% spec 1","x":4.2,"y":-2.95},{"s":"50% spec 1","x":4.3,"y":-3.4},{"s":"50% spec 1","x":4.4,"y":-3.0},{"s":"50% spec 1","x":4.5,"y":-3.45},{"s":"50% spec 1","x":4.6,"y":-3.1},{"s":"50% spec 1","x":4.7,"y":-3.5},{"s":"50% spec 1","x":4.8,"y":-3.15},{"s":"50% spec 1","x":4.9,"y":-3.55},{"s":"50% spec 1","x":5.0,"y":-3.6},{"s":"50% spec 1","x":5.1,"y":-3.3},{"s":"50% spec 1","x":5.2,"y":-3.75},{"s":"50% spec 1","x":5.3,"y":-3.35},{"s":"50% spec 1","x":5.4,"y":-3.8},{"s":"50% spec 1","x":5.5,"y":-3.45},{"s":"50% spec 1","x":5.6,"y":-3.85},{"s":"50% spec 1","x":5.7,"y":-3.5},{"s":"50% spec 1","x":5.8,"y":-3.9},{"s":"50% spec 1","x":5.9,"y":-3.55},{"s":"50% spec 1","x":6.0,"y":-3.95},{"s":"50% spec 1","x":6.1,"y":-3.6},{"s":"50% spec 1","x":6.2,"y":-4.0},{"s":"50% spec 1","x":6.3,"y":-3.65},{"s":"50% spec 1","x":6.4,"y":-4.05},{"s":"50% spec 1","x":6.5,"y":-3.7},{"s":"50% spec 1","x":6.6,"y":-4.1},{"s":"50% spec 1","x":6.7,"y":-3.75},{"s":"50% spec 1","x":6.8,"y":-4.1},{"s":"50% spec 1","x":6.9,"y":-3.8},{"s":"50% spec 1","x":7.0,"y":-4.15},{"s":"50% spec 1","x":7.1,"y":-3.85},{"s":"50% spec 1","x":7.2,"y":-4.2},{"s":"50% spec 1","x":7.3,"y":-3.9},{"s":"50% spec 1","x":7.4,"y":-4.25},{"s":"50% spec 1","x":7.5,"y":-3.9},{"s":"50% spec 1","x":7.6,"y":-4.3},{"s":"50% spec 1","x":7.7,"y":-3.95},{"s":"50% spec 1","x":7.8,"y":-4.35},{"s":"50% spec 1","x":7.9,"y":-4.0},{"s":"50% spec 1","x":8.0,"y":-4.4},{"s":"50% spec 1","x":8.1,"y":-4.05},{"s":"50% spec 1","x":8.2,"y":-4.4},{"s":"50% spec 1","x":8.3,"y":-4.1},{"s":"50% spec 1","x":8.4,"y":-4.45},{"s":"50% spec 1","x":8.5,"y":-4.15},{"s":"50% spec 1","x":8.6,"y":-4.5},{"s":"50% spec 1","x":8.7,"y":-4.2},{"s":"50% spec 1","x":8.8,"y":-4.55},{"s":"50% spec 1","x":8.9,"y":-4.25},{"s":"50% spec 1","x":9.0,"y":-4.6},{"s":"50% spec 1","x":9.1,"y":-4.3},{"s":"50% spec 1","x":9.2,"y":-4.65},{"s":"50% spec 1","x":9.3,"y":-4.35},{"s":"50% spec 1","x":9.4,"y":-4.7},{"s":"50% spec 1","x":9.5,"y":-4.4},{"s":"50% spec 1","x":9.6,"y":-4.75},{"s":"50% spec 1","x":9.7,"y":-4.5},{"s":"50% spec 1","x":9.8,"y":-4.85},{"s":"50% spec 1","x":9.9,"y":-4.6},{"s":"50% spec 1","x":10.07,"y":-5.02},{"s":"50% spec 1","x":10.2,"y":-4.7},{"s":"50% spec 1","x":10.3,"y":-5.1},{"s":"50% spec 1","x":10.4,"y":-4.75},{"s":"50% spec 1","x":10.5,"y":-5.15},{"s":"50% spec 1","x":10.6,"y":-4.8},{"s":"50% spec 1","x":10.7,"y":-5.2},{"s":"50% spec 1","x":10.8,"y":-4.85},{"s":"50% spec 1","x":10.9,"y":-5.2},{"s":"50% spec 1","x":11.0,"y":-4.9},{"s":"50% spec 1","x":11.1,"y":-5.25},{"s":"50% spec 1","x":11.2,"y":-4.95},{"s":"50% spec 1","x":11.3,"y":-5.3},{"s":"50% spec 1","x":11.4,"y":-5.0},{"s":"50% spec 1","x":11.5,"y":-5.35},{"s":"50% spec 1","x":11.6,"y":-5.05},{"s":"50% spec 1","x":11.7,"y":-5.4},{"s":"50% spec 1","x":11.8,"y":-5.1},{"s":"50% spec 1","x":11.9,"y":-5.45},{"s":"50% spec 1","x":12.0,"y":-5.15},{"s":"50% spec 1","x":12.1,"y":-5.5},{"s":"50% spec 1","x":12.2,"y":-5.2},{"s":"50% spec 1","x":12.3,"y":-5.55},{"s":"50% spec 1","x":12.4,"y":-5.3},{"s":"50% spec 1","x":12.5,"y":-5.6},{"s":"50% spec 1","x":12.6,"y":-5.35},{"s":"50% spec 1","x":12.7,"y":-5.7},{"s":"50% spec 1","x":12.8,"y":-5.4},{"s":"50% spec 1","x":12.9,"y":-5.8},{"s":"50% spec 1","x":13.0,"y":-5.5},{"s":"50% spec 1","x":13.1,"y":-5.85},{"s":"50% spec 1","x":13.2,"y":-5.6},{"s":"50% spec 1","x":13.3,"y":-5.9},{"s":"50% spec 1","x":13.4,"y":-5.75},{"s":"50% spec 1","x":13.6,"y":-5.75},{"s":"50% spec 1","x":13.82,"y":-5.7}
  ],
  "marks": [
   {"s":"30% spec 1","x":0,"y":0},{"s":"30% spec 1","x":2.44,"y":-4.5},{"s":"30% spec 1","x":5.06,"y":-6.53},{"s":"30% spec 1","x":6.68,"y":-8.07},
   {"s":"30% spec 2","x":0,"y":0},{"s":"30% spec 2","x":2.44,"y":-2.94},{"s":"30% spec 2","x":6.68,"y":-4.24},
   {"s":"40% spec 1","x":0,"y":0},{"s":"40% spec 1","x":2.5,"y":-2.4},{"s":"40% spec 1","x":5.01,"y":-3.14},{"s":"40% spec 1","x":10.14,"y":-3.85},{"s":"40% spec 1","x":15.8,"y":-4.88},{"s":"40% spec 1","x":19.88,"y":-5.78},
   {"s":"40% spec 2","x":0,"y":0},{"s":"40% spec 2","x":2.5,"y":-1.9},{"s":"40% spec 2","x":5.01,"y":-2.45},{"s":"40% spec 2","x":10.14,"y":-3.14},{"s":"40% spec 2","x":15.76,"y":-4.22},{"s":"40% spec 2","x":19.85,"y":-4.77},
   {"s":"50% spec 1","x":0,"y":0},{"s":"50% spec 1","x":2.5,"y":-2.59},{"s":"50% spec 1","x":5.01,"y":-3.6},{"s":"50% spec 1","x":10.07,"y":-5.02},{"s":"50% spec 1","x":13.82,"y":-5.7},
   {"s":"50% spec 2","x":0,"y":0},{"s":"50% spec 2","x":2.5,"y":-2.3},{"s":"50% spec 2","x":5.01,"y":-2.94},{"s":"50% spec 2","x":10.05,"y":-4.42},{"s":"50% spec 2","x":13.82,"y":-5.05}
  ]
 },
 "layer": [
  {
   "data": {"name": "blue"},
   "mark": {"type": "line", "strokeWidth": 1.6},
   "encoding": {
    "x": {"field": "x", "type": "quantitative", "scale": {"domain": [0, 20], "nice": false},
      "axis": {"orient": "bottom", "offset": -364, "values": [0, 5, 10, 15, 20], "tickSize": 6, "labelPadding": 10, "labelFlush": false, "labelOverlap": false, "grid": false, "domainColor": "black", "tickColor": "black", "labelColor": "black", "labelFont": "Liberation Sans", "labelFontSize": 20, "labelFontWeight": "bold", "title": "Time (day)", "titleFont": "Liberation Sans", "titleFontSize": 20, "titleFontWeight": "bold", "titleColor": "black", "titleX": 512, "titleY": 61, "titleAlign": "right", "titleBaseline": "alphabetic"}},
    "y": {"field": "y", "type": "quantitative", "scale": {"domain": [-10, 0], "nice": false},
      "axis": {"values": [-10, -8, -6, -4, -2, 0], "labelExpr": "datum.value + ''", "tickSize": 6, "labelPadding": 11, "grid": false, "domainColor": "black", "tickColor": "black", "labelColor": "black", "labelFont": "Liberation Sans", "labelFontSize": 20, "labelFontWeight": "bold", "title": "Specific recovery (µm/m/MPa)", "titleFont": "Liberation Sans", "titleFontSize": 21.5, "titleFontWeight": "bold", "titleColor": "black", "titleX": -47, "titleY": 187, "titleAngle": -90, "titleAlign": "center", "titleBaseline": "alphabetic"}},
    "stroke": {"field": "s", "type": "nominal", "scale": {"domain": ["50% spec 2", "50% spec 1", "40% spec 2", "40% spec 1", "30% spec 2", "30% spec 1"], "range": ["#ff0000", "#ff0000", "#000000", "#000000", "#4a7ebb", "#4a7ebb"]}, "legend": null}
   }
  },
  {
   "data": {"name": "noisy"},
   "mark": {"type": "line", "interpolate": "step-after", "strokeWidth": 2.4},
   "encoding": {
    "x": {"field": "x", "type": "quantitative"},
    "y": {"field": "y", "type": "quantitative"},
    "stroke": {"field": "s", "type": "nominal", "scale": {"domain": ["50% spec 2", "50% spec 1", "40% spec 2", "40% spec 1", "30% spec 2", "30% spec 1"], "range": ["#ff0000", "#ff0000", "#000000", "#000000", "#4a7ebb", "#4a7ebb"]}, "legend": null}
   }
  },
  {
   "data": {"name": "marks"},
   "mark": {"type": "point", "filled": true, "size": 150, "strokeWidth": 1, "opacity": 1},
   "encoding": {
    "x": {"field": "x", "type": "quantitative"},
    "y": {"field": "y", "type": "quantitative"},
    "stroke": {"field": "s", "type": "nominal", "scale": {"domain": ["50% spec 2", "50% spec 1", "40% spec 2", "40% spec 1", "30% spec 2", "30% spec 1"], "range": ["#000000", "#000000", "#000000", "#000000", "#000000", "#000000"]}, "legend": null},
    "shape": {"field": "s", "type": "nominal", "scale": {"domain": ["30% spec 1", "30% spec 2", "40% spec 1", "40% spec 2", "50% spec 1", "50% spec 2"], "range": ["triangle-up", "circle", "diamond", "triangle-up", "square", "diamond"]},
      "legend": {"title": null, "orient": "none", "direction": "horizontal", "legendX": 235, "legendY": 318, "columns": 2, "columnPadding": 31, "rowPadding": 5, "symbolSize": 150, "symbolStrokeColor": "black", "symbolStrokeWidth": 1, "labelOffset": 0, "labelFont": "Liberation Sans", "labelFontSize": 20, "labelFontWeight": "bold", "labelColor": "black", "labelLimit": 300}},
    "fill": {"field": "s", "type": "nominal", "scale": {"domain": ["30% spec 1", "30% spec 2", "40% spec 1", "40% spec 2", "50% spec 1", "50% spec 2"], "range": ["#000000", "#000000", "#ffffff", "#ffffff", "#ff0000", "#ff0000"]},
      "legend": {"title": null, "orient": "none", "direction": "horizontal", "legendX": 235, "legendY": 318, "columns": 2, "columnPadding": 31, "rowPadding": 5, "symbolSize": 150, "symbolStrokeColor": "black", "symbolStrokeWidth": 1, "labelOffset": 0, "labelFont": "Liberation Sans", "labelFontSize": 20, "labelFontWeight": "bold", "labelColor": "black", "labelLimit": 300}}
   }
  }
 ]
}
